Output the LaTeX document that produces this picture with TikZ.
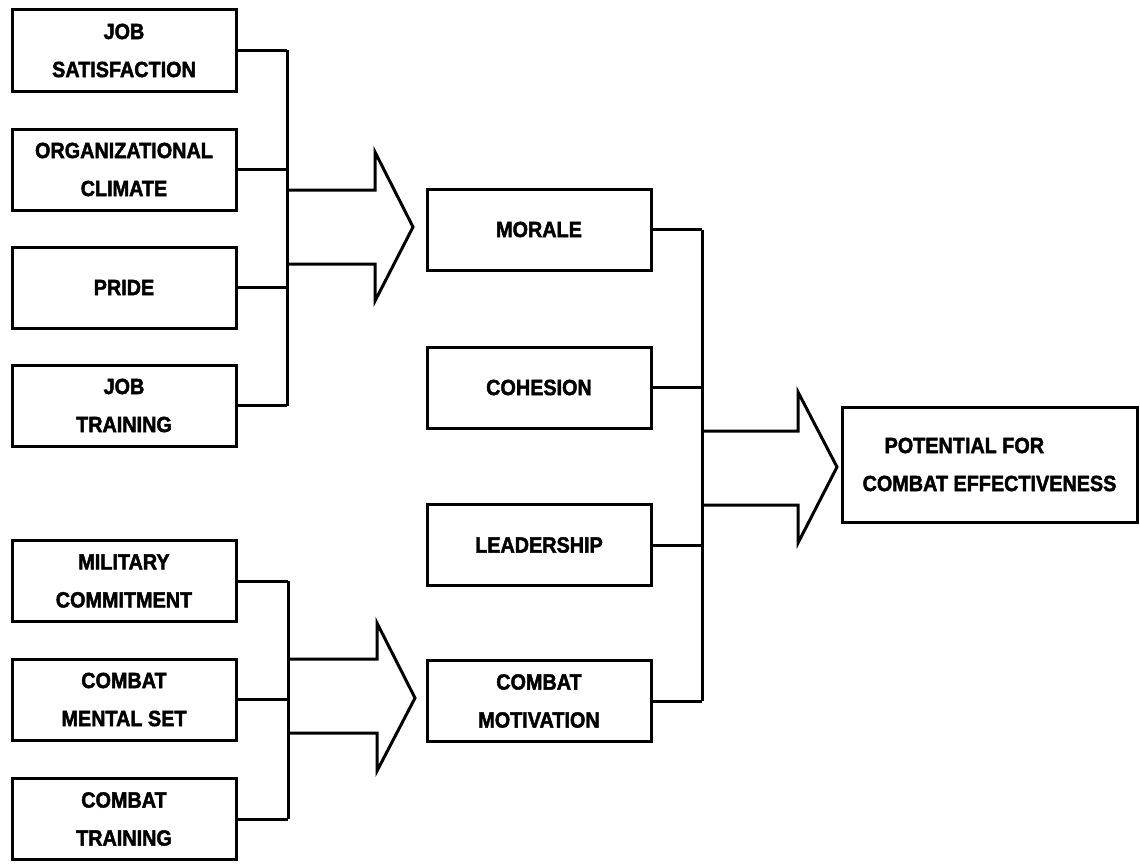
\documentclass[tikz,border=0pt]{standalone}
\usepackage{fontspec}
\newfontfamily\diagfont{Liberation Sans}[FakeStretch=0.9, BoldFeatures={FakeBold=2}]
\begin{document}
\tikzset{
  box/.style={draw, line width=3pt, minimum width=224pt, minimum height=81pt,
    inner sep=0pt, align=center, font=\diagfont\bfseries\fontsize{22}{38}\selectfont},
  wire/.style={line width=3pt},
  blockarrow/.style={line width=3pt, line join=miter}
}
\begin{tikzpicture}[x=1pt,y=-1pt]
\useasboundingbox (0,0) rectangle (1140,867);
% left upper group
\node[box] (js)  at (124,50.5)  {JOB\\SATISFACTION};
\node[box] (oc)  at (124,169.5) {ORGANIZATIONAL\\CLIMATE};
\node[box] (pr)  at (124,287.5) {PRIDE};
\node[box] (jt)  at (124,405.5) {JOB\\TRAINING};
% left lower group
\node[box] (mc)  at (124,581)   {MILITARY\\COMMITMENT};
\node[box] (cms) at (124,699.5) {COMBAT\\MENTAL SET};
\node[box] (ct)  at (124,819)   {COMBAT\\TRAINING};
% middle
\node[box] (mo)  at (539,229.5) {MORALE};
\node[box] (co)  at (539,387.5) {COHESION};
\node[box] (le)  at (539,545)   {LEADERSHIP};
\node[box] (cm)  at (539,701)   {COMBAT\\MOTIVATION};
% final
\node[box, minimum width=295pt, minimum height=115pt, align=left] (pce) at (989.5,464.5)
  {\hspace*{22pt}POTENTIAL FOR\\COMBAT EFFECTIVENESS};

% buses
\coordinate (busA) at (287,0);
\coordinate (busB) at (288,0);
\coordinate (busC) at (702,0);

\foreach \n in {js,oc,pr,jt} \draw[wire] (\n.east) -- (\n.east -| busA);
\draw[wire] (js.east -| busA) -- (jt.east -| busA);

\foreach \n in {mc,cms,ct} \draw[wire] (\n.east) -- (\n.east -| busB);
\draw[wire] (mc.east -| busB) -- (ct.east -| busB);

\foreach \n in {mo,co,le,cm} \draw[wire] (\n.east) -- (\n.east -| busC);
\draw[wire] (mo.east -| busC) -- (cm.east -| busC);

% block arrows
\coordinate (tipA) at (413,227);
\draw[blockarrow] (busA |- 0,190) -- (375,190) -- (375,152) -- (tipA)
  -- (375,301) -- (375,264) -- (busA |- 0,264);
\coordinate (tipB) at (415,698);
\draw[blockarrow] (busB |- 0,659) -- (377,659) -- (377,623) -- (tipB)
  -- (377,771) -- (377,733) -- (busB |- 0,733);
\coordinate (tipC) at (837,467);
\draw[blockarrow] (busC |- 0,431) -- (798,431) -- (798,392) -- (tipC)
  -- (798,543) -- (798,505) -- (busC |- 0,505);
\end{tikzpicture}
\end{document}
